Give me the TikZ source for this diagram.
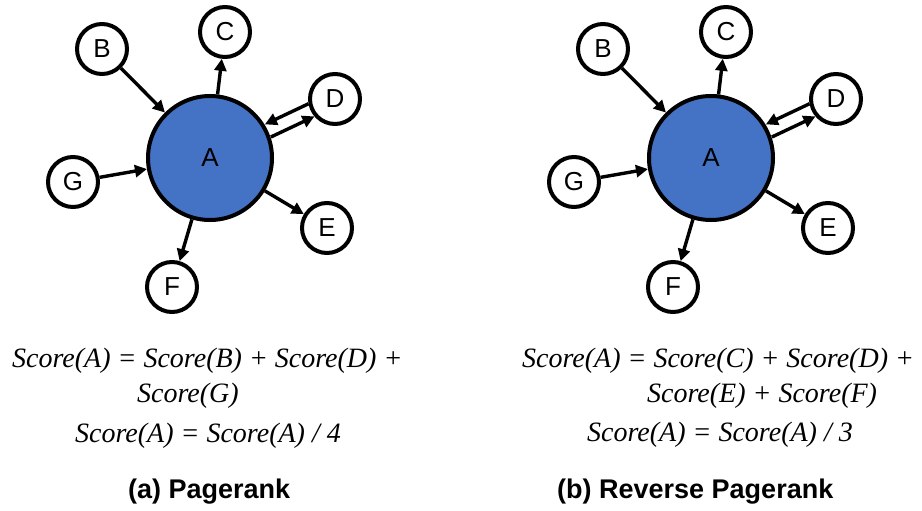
\documentclass[tikz,border=0pt]{standalone}
\usepackage{fontspec}
\setmainfont{Liberation Serif}
\newfontfamily\arialfont{Liberation Sans}
\usetikzlibrary{arrows.meta,calc}
\definecolor{hubblue}{HTML}{4472C4}
\tikzset{
  hub/.style={circle,draw=black,line width=4pt,fill=hubblue,minimum size=124pt,inner sep=0pt,
    font=\arialfont\fontsize{26}{30}\selectfont},
  leaf/.style={circle,draw=black,line width=4pt,fill=white,minimum size=50pt,inner sep=0pt,
    font=\arialfont\fontsize{26}{30}\selectfont},
  link/.style={line width=3.4pt,-{Triangle[length=12pt,width=12pt]}},
  formula/.style={anchor=base west,inner sep=0pt,font=\fontsize{28}{32}\selectfont\itshape},
  caption/.style={anchor=base west,inner sep=0pt,font=\arialfont\bfseries\fontsize{27}{32}\selectfont}
}
\begin{document}
\begin{tikzpicture}[x=1pt,y=-1pt]
\useasboundingbox (0,0) rectangle (922,511);
\foreach \p/\dx in {a/0,b/501}{
  \begin{scope}[xshift=\dx pt]
    \node[hub]  (\p A) at (210,158) {A};
    \node[leaf] (\p B) at (102,49)  {B};
    \node[leaf] (\p C) at (225,32)  {C};
    \node[leaf] (\p D) at (335,99)  {D};
    \node[leaf] (\p E) at (327,228) {E};
    \node[leaf] (\p F) at (172,287) {F};
    \node[leaf] (\p G) at (73,182)  {G};
    \draw[link] (\p B) -- (\p A);
    \draw[link] (\p G) -- (\p A);
    \draw[link] (\p A) -- (\p C);
    \draw[link] (\p A) -- (\p E);
    \draw[link] (\p A) -- (\p F);
    % two parallel links between A and D: upper one into A, lower one into D
    \draw[link,shorten <=26pt,shorten >=64pt]
      ($(\p D)!7pt!-90:(\p A)$) -- ($(\p A)!7pt!90:(\p D)$);
    \draw[link,shorten <=64pt,shorten >=26pt]
      ($(\p A)!7pt!-90:(\p D)$) -- ($(\p D)!7pt!90:(\p A)$);
  \end{scope}
}
\node[formula] (fa1) at (12,367)  {Score(A) = Score(B) + Score(D) +};
\node[formula] (fa2) at (137,402) {Score(G)};
\node[formula] (fa3) at (75,442)  {Score(A) = Score(A) / 4};
\node[formula] (fb1) at (522,367) {Score(A) = Score(C) + Score(D) +};
\node[formula] (fb2) at (647,402) {Score(E) + Score(F)};
\node[formula] (fb3) at (587,441) {Score(A) = Score(A) / 3};
\node[caption] (ca) at (128,498) {(a) Pagerank};
\node[caption] (cb) at (557,498) {(b) Reverse Pagerank};
\end{tikzpicture}
\end{document}
